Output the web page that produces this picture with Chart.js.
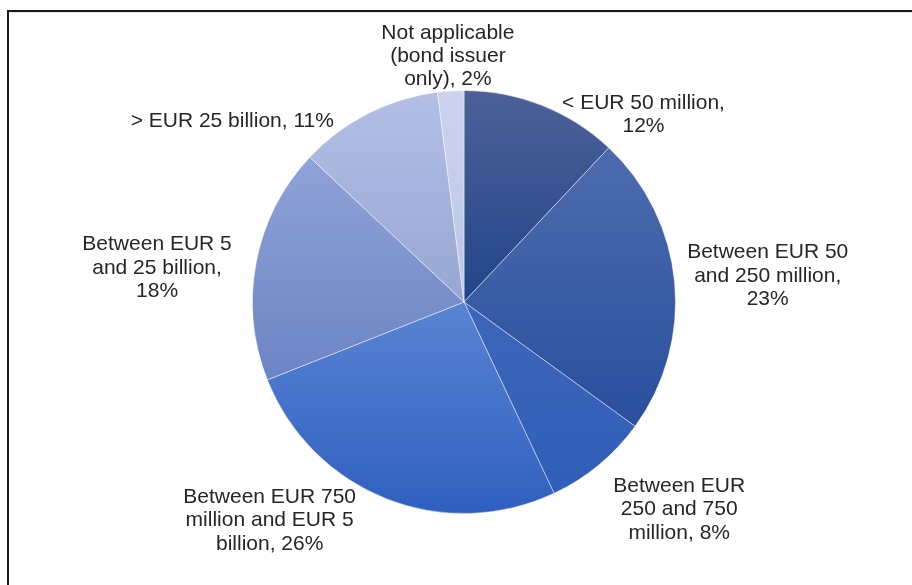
<!DOCTYPE html>
<html>
<head>
<meta charset="utf-8">
<script src="https://cdn.jsdelivr.net/npm/chart.js@4.4.1/dist/chart.umd.min.js"></script>
<style>
  html, body { margin: 0; padding: 0; background: #fff; }
  #wrap { position: relative; width: 912px; height: 585px; overflow: hidden; }
  #frame { position: absolute; left: 7px; top: 10px; width: 1000px; height: 700px;
           border-top: 2px solid #1a1a1a; border-left: 2px solid #1a1a1a;
           box-shadow: inset 0 1px 0 #dfe3ec; }
  #pie { position: absolute; left: 0; top: 0; }
</style>
</head>
<body>
<div id="wrap">
  <div id="frame"></div>
  <canvas id="pie" width="912" height="585"></canvas>
</div>
<script>
var labels = [
  ["< EUR 50 million,", "12%"],
  ["Between EUR 50", "and 250 million,", "23%"],
  ["Between EUR", "250 and 750", "million, 8%"],
  ["Between EUR 750", "million and EUR 5", "billion, 26%"],
  ["Between EUR 5", "and 25 billion,", "18%"],
  ["> EUR 25 billion, 11%"],
  ["Not applicable", "(bond issuer", "only), 2%"]
];
var shares = [12, 23, 8, 26, 18, 11, 2];

// slice gradient, light at top of the slice, darker at bottom
var topColors    = ["#4d6198", "#4e6bae", "#3d66b9", "#5a84d3", "#90a3d8", "#b3bfe5", "#ccd3ee"];
var bottomColors = ["#21458a", "#294f9e", "#305eb8", "#2f5fbf", "#6b84c4", "#97a6d3", "#bcc6e6"];

// label nudges (px) on top of the arc based anchor
var nudgeX = [68, 3, 32, -81, -16, -85, 2];
var nudgeY = [40, -2, 10, -20, 14, 27, 10];

var FONT = "21px 'Liberation Sans', Arial, sans-serif";
var LINE_H = 23.3;

function sliceFill(c) {
  var chart = c.chart, area = chart.chartArea;
  var i = c.dataIndex;
  if (!area || i === undefined) return topColors[i || 0];
  var cx = (area.left + area.right) / 2, cy = (area.top + area.bottom) / 2;
  var r = Math.min(area.right - area.left, area.bottom - area.top) / 2;
  var data = c.dataset.data, total = 0, before = 0;
  for (var k = 0; k < data.length; k++) { total += data[k]; if (k < i) before += data[k]; }
  var a0 = -Math.PI / 2 + before / total * 2 * Math.PI;
  var a1 = a0 + data[i] / total * 2 * Math.PI;
  var ys = [cy];
  for (var s = 0; s <= 40; s++) ys.push(cy + r * Math.sin(a0 + (a1 - a0) * s / 40));
  var y0 = Math.min.apply(null, ys), y1 = Math.max.apply(null, ys);
  var g = chart.ctx.createLinearGradient(0, y0, 0, y1 + 1);
  g.addColorStop(0, topColors[i]);
  g.addColorStop(1, bottomColors[i]);
  return g;
}

var outsideLabels = {
  id: 'outsideLabels',
  afterDatasetsDraw: function(chart) {
    var ctx = chart.ctx;
    var arcs = chart.getDatasetMeta(0).data;
    ctx.save();
    ctx.font = FONT;
    ctx.fillStyle = "#262626";
    ctx.textAlign = "center";
    ctx.textBaseline = "middle";
    arcs.forEach(function(arc, i) {
      var p = arc.getProps(['x', 'y', 'startAngle', 'endAngle', 'outerRadius'], true);
      var mid = (p.startAngle + p.endAngle) / 2;
      var lines = labels[i];
      var w = 0;
      lines.forEach(function(t) { w = Math.max(w, ctx.measureText(t).width); });
      var h = lines.length * LINE_H;
      var rr = p.outerRadius + 10;
      var bx = p.x + Math.cos(mid) * (rr + w / 2) + nudgeX[i];
      var by = p.y + Math.sin(mid) * rr + Math.sin(mid) * h / 2 + nudgeY[i];
      lines.forEach(function(t, j) {
        ctx.fillText(t, bx, by + (j - (lines.length - 1) / 2) * LINE_H);
      });
    });
    ctx.restore();
  }
};

var chartPie = new Chart(document.getElementById("pie"), {
  type: 'pie',
  data: {
    labels: labels.map(function(l) { return l.join(" "); }),
    datasets: [{
      data: shares,
      backgroundColor: sliceFill,
      borderColor: "rgba(255,255,255,0.45)",
      borderWidth: 1
    }]
  },
  options: {
    responsive: false,
    animation: false,
    layout: { padding: { left: 252, right: 236, top: 90, bottom: 71 } },
    plugins: { legend: { display: false }, tooltip: { enabled: false } }
  },
  plugins: [outsideLabels]
});
</script>
</body>
</html>
